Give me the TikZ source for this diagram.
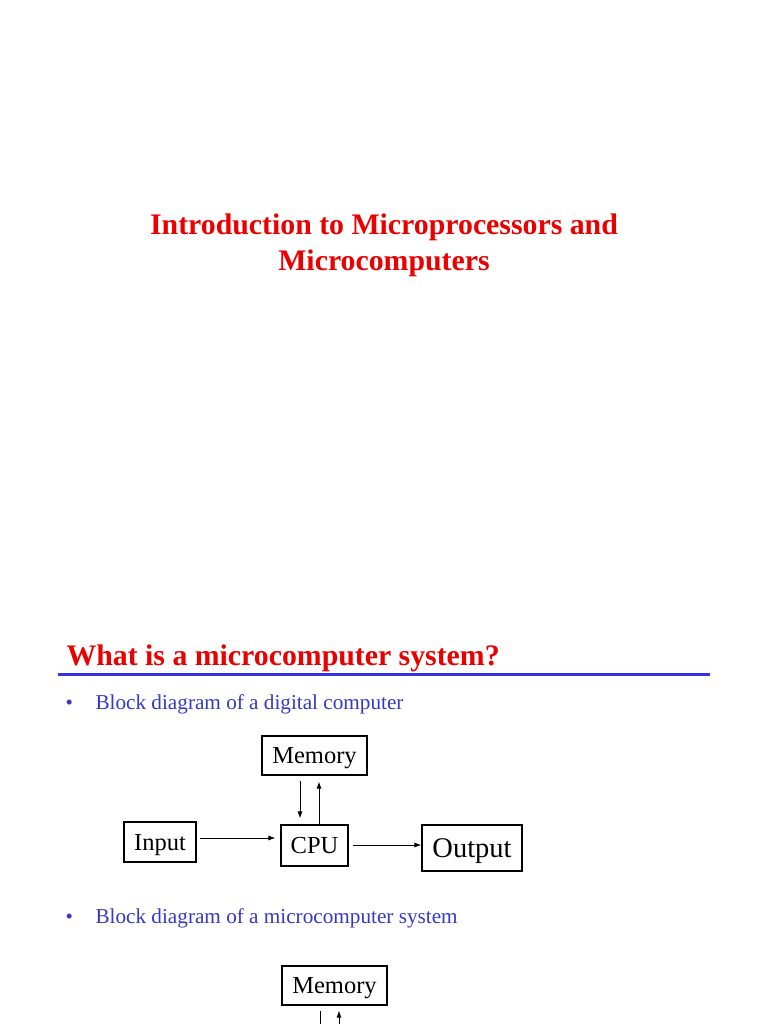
\documentclass[tikz,border=0pt]{standalone}
\usepackage{xcolor}
\usepackage{fontspec}
\setmainfont{Liberation Serif}
\usetikzlibrary{arrows.meta}

\definecolor{slidered}{RGB}{235,0,0}
\definecolor{slideblue}{RGB}{55,55,200}
\definecolor{ruleblue}{RGB}{50,50,225}

\tikzset{
    blk/.style={draw, inner sep=0pt, text height=16.5pt, text depth=0pt, font=\fontsize{24.5}{26}\selectfont},
    link/.style={-{Latex[length=7pt,width=5pt]}, line width=0.9pt}
}

\begin{document}
\begin{tikzpicture}[x=1pt, y=-1pt, line width=1.1pt]
    \fill[white] (0,0) rectangle (768,1024);
    \useasboundingbox (0,0) rectangle (768,1024);

    % title of the first slide
    \node[slidered, anchor=base, font=\fontsize{29.8}{30}\bfseries\selectfont] (title1) at (384,234) {Introduction to Microprocessors and};
    \node[slidered, anchor=base, font=\fontsize{29.8}{30}\bfseries\selectfont] (title2) at (384,270) {Microcomputers};

    % second slide heading
    \node[slidered, anchor=base west, inner sep=0pt, font=\fontsize{29.8}{30}\bfseries\selectfont] (head) at (66,665) {What is a microcomputer system?};
    \coordinate (rulel) at (58,674);
    \coordinate (ruler) at (710,674);
    \draw[ruleblue, line width=3pt] (rulel) -- (ruler);

    % bullets
    \node[slideblue, anchor=base west, inner sep=0pt, font=\fontsize{21}{22}\selectfont] (dot1) at (65,709) {\textbullet};
    \node[slideblue, anchor=base west, inner sep=0pt, font=\fontsize{21.2}{22}\selectfont] (item1) at (95,709) {Block diagram of a digital computer};
    \node[slideblue, anchor=base west, inner sep=0pt, font=\fontsize{21}{22}\selectfont] (dot2) at (65,923) {\textbullet};
    \node[slideblue, anchor=base west, inner sep=0pt, font=\fontsize{21.2}{22}\selectfont] (item2) at (95,923) {Block diagram of a microcomputer system};

    % digital computer
    \node[blk, minimum width=105pt, minimum height=39pt] (mem) at (314.5,755.5) {Memory};
    \node[blk, minimum width=67pt, minimum height=41pt] (cpu) at (314.5,845.5) {CPU};
    \node[blk, minimum width=72pt, minimum height=40pt] (in) at (160,842) {Input};
    \node[blk, minimum width=100pt, minimum height=46pt, text height=19pt, font=\fontsize{28.5}{30}\selectfont] (out) at (472,848) {Output};

    \draw[link] ([xshift=-14.5pt,yshift=-5pt]mem.south) -- ([xshift=-14.5pt,yshift=6pt]mem.south |- cpu.north);
    \draw[link] ([xshift=4.5pt]cpu.north) -- ([xshift=4.5pt,yshift=-6pt]cpu.north |- mem.south);
    \draw[link] ([xshift=3pt,yshift=4pt]in.east) -- ([xshift=-5pt]cpu.west |- {(0,838)});
    \draw[link] ([xshift=4pt,yshift=0.5pt]cpu.east) -- (out.west |- {(0,845)});

    % microcomputer system
    \node[blk, minimum width=105pt, minimum height=39pt] (mem2) at (334.5,985.5) {Memory};
    \coordinate (mc) at (334.5,1024);
    \draw[link, -] ([xshift=-14.5pt,yshift=-5pt]mem2.south) -- ([xshift=-14.5pt]mc);
    \draw[link] ([xshift=4.5pt]mc) -- ([xshift=4.5pt,yshift=-5pt]mem2.south);
\end{tikzpicture}
\end{document}
